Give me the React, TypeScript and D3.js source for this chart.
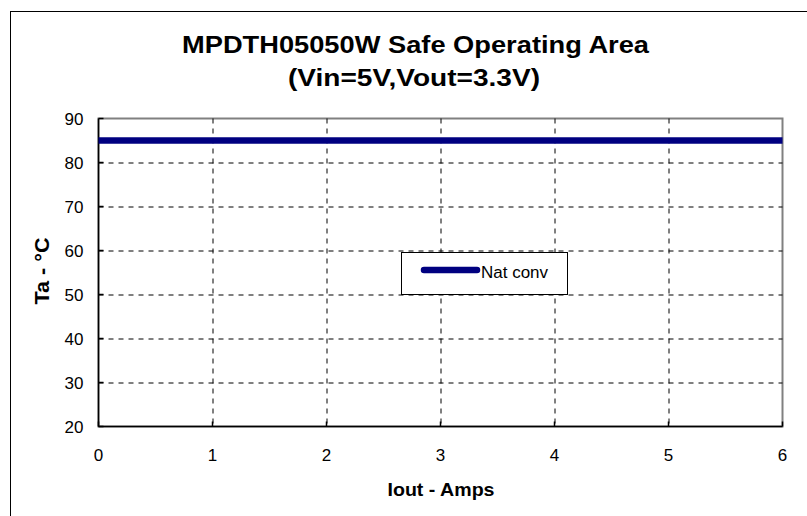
import React, { useEffect } from 'react';
import * as d3 from 'd3';

// Safe operating area: ambient temperature limit vs output current (natural convection)
const ioutAmps = [0, 0.5, 1, 1.5, 2, 2.5, 3, 3.5, 4, 4.5, 5, 5.5, 6];
const natConvTa = [85, 85, 85, 85, 85, 85, 85, 85, 85, 85, 85, 85, 85];
const xTicks = [0, 1, 2, 3, 4, 5, 6];
const yTicks = [20, 30, 40, 50, 60, 70, 80, 90];
const titleLines = ['MPDTH05050W Safe Operating Area', '(Vin=5V,Vout=3.3V)'];
const seriesName = 'Nat conv';

const W = 807, H = 516;
const margin = { top: 118.5, right: 24.5, bottom: 89.5, left: 98.5 };
const NAVY = '#000080';
const FONT = 'Arial, "Liberation Sans", Helvetica, sans-serif';

export default function App() {
  useEffect(() => { document.body.style.margin = '0'; }, []);

  const innerW = W - margin.left - margin.right;
  const innerH = H - margin.top - margin.bottom;
  const x = d3.scaleLinear().domain([0, 6]).range([0, innerW]);
  const y = d3.scaleLinear().domain([20, 90]).range([innerH, 0]);
  const pts = ioutAmps.map((v, i) => ({ x: v, y: natConvTa[i] }));
  const line = d3.line<{ x: number; y: number }>().x(d => x(d.x)).y(d => y(d.y));

  return (
    <svg width={W} height={H} style={{ display: 'block', fontFamily: FONT }}>
      <rect x={0} y={0} width={W} height={H} fill="#fff" />
      {/* outer chart frame, runs off the right and bottom edge */}
      <rect x={10.5} y={11.5} width={W + 20} height={H + 20} fill="none" stroke="#000" strokeWidth={1} />

      {/* title */}
      <text x={415.5} y={53} textAnchor="middle" fontSize={23} fontWeight="bold" fill="#000"
        textLength={467} lengthAdjust="spacingAndGlyphs">{titleLines[0]}</text>
      <text x={414} y={86} textAnchor="middle" fontSize={23} fontWeight="bold" fill="#000"
        textLength={252} lengthAdjust="spacingAndGlyphs">{titleLines[1]}</text>

      <g transform={`translate(${margin.left},${margin.top})`}>
        {/* plot area frame */}
        <rect x={0} y={0} width={innerW} height={innerH} fill="none" stroke="#808080" strokeWidth={2} />

        {/* grid */}
        {yTicks.slice(1, -1).map(t => (
          <line key={'gy' + t} x1={0} x2={innerW} y1={Math.round(y(t)) + 0.5} y2={Math.round(y(t)) + 0.5}
            stroke="#000" strokeWidth={1} strokeDasharray="5,5" />
        ))}
        {xTicks.slice(1, -1).map(t => (
          <line key={'gx' + t} x1={Math.round(x(t)) + 0.5} x2={Math.round(x(t)) + 0.5} y1={0} y2={innerH}
            stroke="#000" strokeWidth={1} strokeDasharray="5,5" />
        ))}

        {/* axes */}
        <line x1={0} x2={0} y1={0} y2={innerH} stroke="#000" strokeWidth={1.5} />
        <line x1={0} x2={innerW} y1={innerH} y2={innerH} stroke="#000" strokeWidth={1.5} />
        {yTicks.map(t => (
          <g key={'ty' + t}>
            <line x1={0} x2={5} y1={y(t)} y2={y(t)} stroke="#000" strokeWidth={1.5} />
            <text x={-15} y={y(t)} dy="0.36em" textAnchor="end" fontSize={17} fill="#000">{t}</text>
          </g>
        ))}
        {xTicks.map(t => (
          <g key={'tx' + t}>
            <line x1={x(t)} x2={x(t)} y1={innerH} y2={innerH - 5} stroke="#000" strokeWidth={1.5} />
            <text x={x(t)} y={innerH + 34} textAnchor="middle" fontSize={17} fill="#000">{t}</text>
          </g>
        ))}

        {/* series */}
        <path d={line(pts) || ''} fill="none" stroke={NAVY} strokeWidth={6.5} />
      </g>

      {/* axis titles */}
      <text x={441} y={496} textAnchor="middle" fontSize={19} fontWeight="bold" fill="#000"
        textLength={107} lengthAdjust="spacingAndGlyphs">Iout - Amps</text>
      <text transform="translate(49,271) rotate(-90)" textAnchor="middle" fontSize={20} fontWeight="bold"
        fill="#000" textLength={67} lengthAdjust="spacingAndGlyphs">Ta - °C</text>

      {/* legend */}
      <rect x={401.5} y={252.5} width={166} height={42} fill="#fff" stroke="#000" strokeWidth={1} />
      <line x1={424} x2={477} y1={270} y2={270} stroke={NAVY} strokeWidth={6.5} strokeLinecap="round" />
      <text x={481} y={278} fontSize={16} fill="#000" textLength={67} lengthAdjust="spacingAndGlyphs">{seriesName}</text>
    </svg>
  );
}
